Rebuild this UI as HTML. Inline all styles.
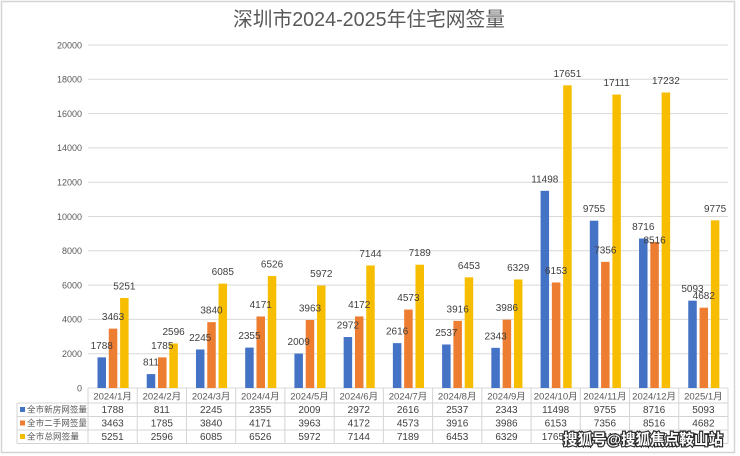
<!DOCTYPE html>
<html><head><meta charset="utf-8"><style>
html,body{margin:0;padding:0;background:#fff;}
svg{display:block;}
text{font-family:"Liberation Sans","Noto Sans CJK SC",sans-serif;}
</style></head><body>
<svg width="740" height="456" viewBox="0 0 740 456" xmlns="http://www.w3.org/2000/svg">
<rect x="0" y="0" width="740" height="456" fill="#fff"/>
<rect x="1.5" y="1.5" width="733" height="451" fill="#fff" stroke="#d4d4d4" stroke-width="1.5"/>
<text x="369" y="26" font-size="20" fill="#595959" text-anchor="middle" textLength="272" lengthAdjust="spacingAndGlyphs">深圳市2024-2025年住宅网签量</text>
<g stroke="#d9d9d9" stroke-width="1">
<line x1="88" y1="45" x2="728" y2="45"/><line x1="88" y1="79.3" x2="728" y2="79.3"/><line x1="88" y1="113.6" x2="728" y2="113.6"/><line x1="88" y1="147.9" x2="728" y2="147.9"/><line x1="88" y1="182.2" x2="728" y2="182.2"/><line x1="88" y1="216.5" x2="728" y2="216.5"/><line x1="88" y1="250.8" x2="728" y2="250.8"/><line x1="88" y1="285.1" x2="728" y2="285.1"/><line x1="88" y1="319.4" x2="728" y2="319.4"/><line x1="88" y1="353.7" x2="728" y2="353.7"/><line x1="88" y1="388" x2="728" y2="388"/>
</g>
<g font-size="9" fill="#595959" text-anchor="end">
<text x="82" y="48.3">20000</text><text x="82" y="82.6">18000</text><text x="82" y="116.9">16000</text><text x="82" y="151.2">14000</text><text x="82" y="185.5">12000</text><text x="82" y="219.8">10000</text><text x="82" y="254.1">8000</text><text x="82" y="288.4">6000</text><text x="82" y="322.7">4000</text><text x="82" y="357">2000</text><text x="82" y="391.3">0</text>
</g>
<g fill="#4472C4">
<rect x="97.5" y="357.34" width="8.5" height="30.66"/><rect x="146.73" y="374.09" width="8.5" height="13.91"/><rect x="195.96" y="349.5" width="8.5" height="38.5"/><rect x="245.19" y="347.61" width="8.5" height="40.39"/><rect x="294.42" y="353.55" width="8.5" height="34.45"/><rect x="343.65" y="337.03" width="8.5" height="50.97"/><rect x="392.88" y="343.14" width="8.5" height="44.86"/><rect x="442.11" y="344.49" width="8.5" height="43.51"/><rect x="491.34" y="347.82" width="8.5" height="40.18"/><rect x="540.57" y="190.81" width="8.5" height="197.19"/><rect x="589.8" y="220.7" width="8.5" height="167.3"/><rect x="639.03" y="238.52" width="8.5" height="149.48"/><rect x="688.26" y="300.66" width="8.5" height="87.34"/>
</g>
<g fill="#ED7D31">
<rect x="108.8" y="328.61" width="8.5" height="59.39"/><rect x="158.03" y="357.39" width="8.5" height="30.61"/><rect x="207.26" y="322.14" width="8.5" height="65.86"/><rect x="256.49" y="316.47" width="8.5" height="71.53"/><rect x="305.72" y="320.03" width="8.5" height="67.97"/><rect x="354.95" y="316.45" width="8.5" height="71.55"/><rect x="404.18" y="309.57" width="8.5" height="78.43"/><rect x="453.41" y="320.84" width="8.5" height="67.16"/><rect x="502.64" y="319.64" width="8.5" height="68.36"/><rect x="551.87" y="282.48" width="8.5" height="105.52"/><rect x="601.1" y="261.84" width="8.5" height="126.16"/><rect x="650.33" y="241.95" width="8.5" height="146.05"/><rect x="699.56" y="307.7" width="8.5" height="80.3"/>
</g>
<g fill="#F7BD00">
<rect x="120.1" y="297.95" width="8.5" height="90.05"/><rect x="169.33" y="343.48" width="8.5" height="44.52"/><rect x="218.56" y="283.64" width="8.5" height="104.36"/><rect x="267.79" y="276.08" width="8.5" height="111.92"/><rect x="317.02" y="285.58" width="8.5" height="102.42"/><rect x="366.25" y="265.48" width="8.5" height="122.52"/><rect x="415.48" y="264.71" width="8.5" height="123.29"/><rect x="464.71" y="277.33" width="8.5" height="110.67"/><rect x="513.94" y="279.46" width="8.5" height="108.54"/><rect x="563.17" y="85.29" width="8.5" height="302.71"/><rect x="612.4" y="94.55" width="8.5" height="293.45"/><rect x="661.63" y="92.47" width="8.5" height="295.53"/><rect x="710.86" y="220.36" width="8.5" height="167.64"/>
</g>
<g font-size="10" fill="#404040" text-anchor="middle">
<text x="101.75" y="348.8">1788</text><text x="150.98" y="365.6">811</text><text x="200.21" y="341">2245</text><text x="249.44" y="339.1">2355</text><text x="298.67" y="345">2009</text><text x="347.9" y="328.5">2972</text><text x="397.13" y="334.6">2616</text><text x="446.36" y="336">2537</text><text x="495.59" y="339.3">2343</text><text x="544.82" y="182.3">11498</text><text x="594.05" y="212.2">9755</text><text x="643.28" y="230">8716</text><text x="692.51" y="292.2">5093</text>
<text x="113.05" y="320.1">3463</text><text x="162.28" y="348.9">1785</text><text x="211.51" y="313.6">3840</text><text x="260.74" y="308">4171</text><text x="309.97" y="311.5">3963</text><text x="359.2" y="308">4172</text><text x="408.43" y="301.1">4573</text><text x="457.66" y="312.3">3916</text><text x="506.89" y="311.1">3986</text><text x="556.12" y="274">6153</text><text x="605.35" y="253.3">7356</text><text x="654.58" y="243.4">8516</text><text x="703.81" y="299.2">4682</text>
<text x="124.35" y="289.5">5251</text><text x="173.58" y="335">2596</text><text x="222.81" y="275.1">6085</text><text x="272.04" y="267.6">6526</text><text x="321.27" y="277.1">5972</text><text x="370.5" y="257">7144</text><text x="419.73" y="256.2">7189</text><text x="468.96" y="268.8">6453</text><text x="518.19" y="271">6329</text><text x="567.42" y="76.8">17651</text><text x="616.65" y="86">17111</text><text x="665.88" y="84">17232</text><text x="715.11" y="211.9">9775</text>
</g>
<g stroke="#d4d4d4" stroke-width="1">
<line x1="17" y1="403" x2="728" y2="403"/><line x1="17" y1="416.5" x2="728" y2="416.5"/><line x1="17" y1="430" x2="728" y2="430"/><line x1="17" y1="443.5" x2="728" y2="443.5"/>
<line x1="17" y1="403" x2="17" y2="443.5"/>
<line x1="88" y1="388" x2="88" y2="443.5"/><line x1="137.23" y1="388" x2="137.23" y2="443.5"/><line x1="186.46" y1="388" x2="186.46" y2="443.5"/><line x1="235.69" y1="388" x2="235.69" y2="443.5"/><line x1="284.92" y1="388" x2="284.92" y2="443.5"/><line x1="334.15" y1="388" x2="334.15" y2="443.5"/><line x1="383.38" y1="388" x2="383.38" y2="443.5"/><line x1="432.61" y1="388" x2="432.61" y2="443.5"/><line x1="481.84" y1="388" x2="481.84" y2="443.5"/><line x1="531.07" y1="388" x2="531.07" y2="443.5"/><line x1="580.3" y1="388" x2="580.3" y2="443.5"/><line x1="629.53" y1="388" x2="629.53" y2="443.5"/><line x1="678.76" y1="388" x2="678.76" y2="443.5"/><line x1="728" y1="388" x2="728" y2="443.5"/>
</g>
<g font-size="9.5" fill="#595959" text-anchor="middle">
<text x="112.6" y="399.4">2024/1月</text><text x="161.85" y="399.4">2024/2月</text><text x="211.1" y="399.4">2024/3月</text><text x="260.3" y="399.4">2024/4月</text><text x="309.5" y="399.4">2024/5月</text><text x="358.8" y="399.4">2024/6月</text><text x="408" y="399.4">2024/7月</text><text x="457.2" y="399.4">2024/8月</text><text x="506.5" y="399.4">2024/9月</text><text x="555.7" y="399.4">2024/10月</text><text x="604.9" y="399.4">2024/11月</text><text x="654.1" y="399.4">2024/12月</text><text x="703.4" y="399.4">2025/1月</text>
</g>
<rect x="20" y="407" width="5" height="5" fill="#4472C4"/>
<rect x="20" y="420.5" width="5" height="5" fill="#ED7D31"/>
<rect x="20" y="434" width="5" height="5" fill="#F7BD00"/>
<g font-size="8.6" fill="#595959">
<text x="27" y="412.6" textLength="60" lengthAdjust="spacingAndGlyphs">全市新房网签量</text>
<text x="27" y="426.1" textLength="60" lengthAdjust="spacingAndGlyphs">全市二手网签量</text>
<text x="27" y="439.6" textLength="52" lengthAdjust="spacingAndGlyphs">全市总网签量</text>
</g>
<g font-size="10" fill="#404040" text-anchor="middle">
<text x="112.6" y="413">1788</text><text x="161.85" y="413">811</text><text x="211.1" y="413">2245</text><text x="260.3" y="413">2355</text><text x="309.5" y="413">2009</text><text x="358.8" y="413">2972</text><text x="408" y="413">2616</text><text x="457.2" y="413">2537</text><text x="506.5" y="413">2343</text><text x="555.7" y="413">11498</text><text x="604.9" y="413">9755</text><text x="654.1" y="413">8716</text><text x="703.4" y="413">5093</text>
<text x="112.6" y="426.5">3463</text><text x="161.85" y="426.5">1785</text><text x="211.1" y="426.5">3840</text><text x="260.3" y="426.5">4171</text><text x="309.5" y="426.5">3963</text><text x="358.8" y="426.5">4172</text><text x="408" y="426.5">4573</text><text x="457.2" y="426.5">3916</text><text x="506.5" y="426.5">3986</text><text x="555.7" y="426.5">6153</text><text x="604.9" y="426.5">7356</text><text x="654.1" y="426.5">8516</text><text x="703.4" y="426.5">4682</text>
<text x="112.6" y="440">5251</text><text x="161.85" y="440">2596</text><text x="211.1" y="440">6085</text><text x="260.3" y="440">6526</text><text x="309.5" y="440">5972</text><text x="358.8" y="440">7144</text><text x="408" y="440">7189</text><text x="457.2" y="440">6453</text><text x="506.5" y="440">6329</text><text x="555.7" y="440">17651</text><text x="604.9" y="440">17111</text><text x="654.1" y="440">17232</text><text x="703.4" y="440">9775</text>
</g>
<text x="563" y="444.5" font-size="15" font-weight="bold" fill="#ffffff" stroke="#2a2a2a" stroke-width="2.4" paint-order="stroke" textLength="160" lengthAdjust="spacingAndGlyphs">搜狐号@搜狐焦点鞍山站</text>
</svg>
</body></html>
